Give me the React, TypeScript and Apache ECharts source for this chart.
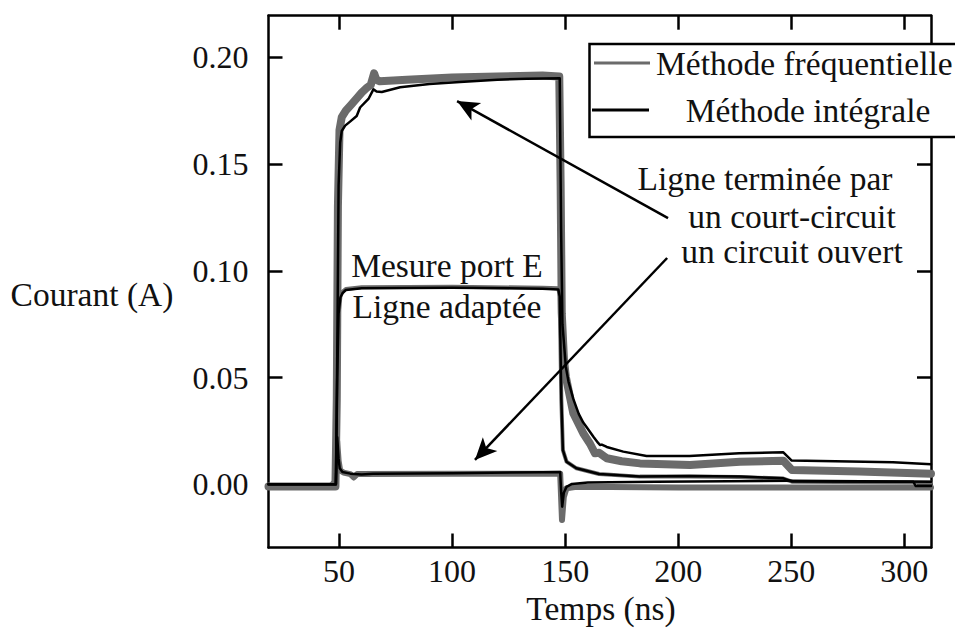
import React, { useEffect, useRef } from "react";
import * as echarts from "echarts";

// ---- axis settings ----
const xTicks = [50, 100, 150, 200, 250, 300];
const yTicks = [0, 0.05, 0.1, 0.15, 0.2];
const xRange = [18.8, 311.8];
const yRange = [-0.0296, 0.2195];

// ---- series (time in ns, current in A) ----
// Ligne terminée par un court-circuit
const scFrequentielle: [number, number][] = [
  [18.8, -0.001], [48.4, -0.001], [49.0, 0.04], [49.5, 0.13], [50.2, 0.166], [51.2, 0.172],
  [53, 0.175], [55.5, 0.178], [58, 0.181], [60, 0.1835], [62, 0.1855], [64, 0.187],
  [65.5, 0.1925], [66.5, 0.1895], [68, 0.1888], [72, 0.189], [80, 0.1895], [100, 0.1905],
  [120, 0.191], [140, 0.1915], [147.4, 0.191], [148.0, 0.14], [148.5, 0.08], [149.5, 0.058],
  [150.3, 0.0504], [153.6, 0.0333], [158, 0.0239], [161, 0.019], [163.2, 0.0145], [165, 0.0148],
  [168.4, 0.0122], [175, 0.0108], [183.1, 0.0098], [205.2, 0.009], [227.3, 0.0106],
  [246.5, 0.011], [250.3, 0.0067], [280, 0.006], [311.8, 0.005],
];
const scIntegrale: [number, number][] = [
  [18.8, 0], [48.6, 0], [49.2, 0.06], [49.8, 0.14], [50.5, 0.16], [51.2, 0.1655], [52.7, 0.168],
  [55, 0.17], [57.8, 0.1725], [59.3, 0.1765], [63, 0.1805], [65.2, 0.185], [66.6, 0.184],
  [68.9, 0.1838], [77, 0.186], [90, 0.1875], [103.5, 0.1885], [120, 0.1895], [133, 0.19],
  [147.6, 0.1902], [148.2, 0.12], [148.8, 0.075], [150.3, 0.055], [151.5, 0.048], [153.6, 0.04],
  [156, 0.033], [158, 0.0289], [160, 0.026], [162.5, 0.0223], [164.5, 0.0195], [165.4, 0.0184],
  [166.2, 0.0186], [168.4, 0.0175], [175.7, 0.0153], [186, 0.0133], [205, 0.0133], [227, 0.0145],
  [246.5, 0.015], [250.2, 0.0111], [295, 0.0103], [311.8, 0.0094],
];
// Mesure port E, ligne adaptée
const adapteeFrequentielle: [number, number][] = [
  [18.8, -0.001], [48.4, -0.001], [49.2, 0.05], [49.8, 0.08], [50.6, 0.088], [51.5, 0.0902],
  [53, 0.0915], [60, 0.0923], [100, 0.0925], [140, 0.0921], [147.0, 0.0918], [147.6, 0.088],
  [148.3, 0.04], [149.0, 0.016], [150.6, 0.0106], [155, 0.0075], [165, 0.0048], [183, 0.0036],
  [205, 0.0036], [227, 0.0034], [246.5, 0.0027], [250.3, 0.0012], [311.8, 0.0008],
];
const adapteeIntegrale: [number, number][] = [
  [18.8, 0], [48.6, 0], [49.2, 0.05], [49.8, 0.08], [50.6, 0.0875], [51.5, 0.0895], [53, 0.091],
  [60, 0.0918], [100, 0.0921], [140, 0.0916], [147.0, 0.0913], [147.6, 0.088], [148.3, 0.04],
  [149.0, 0.016], [150.6, 0.0106], [155, 0.0075], [165, 0.0048], [183, 0.0036], [205, 0.0039],
  [227, 0.0036], [246.5, 0.0028], [250.3, 0.0013], [304, 0.0012], [305, -0.0008], [311.8, -0.0008],
];
// Ligne terminée par un circuit ouvert
const ocFrequentielle: [number, number][] = [
  [18.8, -0.0012], [46, -0.0012], [47.5, 0.0005], [48.5, 0.0], [49.2, 0.02], [49.8, 0.011],
  [50.5, 0.0065], [52, 0.0055], [55, 0.0048], [56.5, 0.0032], [58, 0.0048], [100, 0.005],
  [147.8, 0.005], [148.2, -0.006], [148.6, -0.0167], [149.4, -0.006], [150.6, -0.0018],
  [155, -0.0012], [200, -0.0015], [311.8, -0.0015],
];
const ocIntegrale: [number, number][] = [
  [18.8, 0], [48.6, 0], [49.2, 0.022], [49.8, 0.012], [50.3, 0.0075], [51.5, 0.0058], [55, 0.005],
  [60, 0.0046], [65, 0.0049], [100, 0.0052], [140, 0.0057], [147.8, 0.0058], [148.2, -0.003],
  [148.7, -0.0105], [149.4, -0.004], [150.6, -0.0012], [153, 0.0002], [160, 0.0008],
  [190, 0.0012], [250, 0.0017], [311.8, 0.0012],
];

// ---- annotation arrows (data coordinates: tail, head) ----
const arrowCourtCircuit = [[195.5, 0.1247], [102.2, 0.1795]];
const arrowCircuitOuvert = [[195.1, 0.106], [110.1, 0.0114]];

const FONT = "Liberation Serif";
const GRAY = "#6b6b6b";
const BLACK = "#000000";
const FS = 32;
const FS_TEXT = 33.5;

export default function App() {
  const ref = useRef<HTMLDivElement>(null);
  useEffect(() => {
    if (!ref.current) return;
    const chart = echarts.init(ref.current, undefined, { renderer: "svg" });

    const axisLine = { show: true, onZero: false, lineStyle: { color: BLACK, width: 2.5 } };
    const tick = (vals: number[]) => ({
      show: true,
      inside: true,
      length: 14,
      customValues: vals,
      lineStyle: { color: BLACK, width: 2.5 },
    });
    const labelStyle = { fontFamily: FONT, fontSize: FS, color: "#111" };

    const lineSeries = (name: string, data: [number, number][], color: string, width: number, z: number) => ({
      name,
      type: "line",
      data,
      showSymbol: false,
      symbol: "none",
      silent: true,
      z,
      lineStyle: { color, width, join: "round", cap: "round" },
    });

    const ocBlack: any = lineSeries("Méthode intégrale", ocIntegrale, BLACK, 2.5, 5);
    ocBlack.markLine = {
      silent: true,
      symbol: ["none", "arrow"],
      symbolSize: [15, 22],
      lineStyle: { color: BLACK, width: 2.5, type: "solid" },
      label: { show: false },
      data: [
        [{ coord: arrowCourtCircuit[0] }, { coord: arrowCourtCircuit[1] }],
        [{ coord: arrowCircuitOuvert[0] }, { coord: arrowCircuitOuvert[1] }],
      ],
    };

    const text = (t: string, x: number, y: number, align = "center") => ({
      type: "text",
      x,
      y,
      z: 110,
      style: {
        text: t,
        fontFamily: FONT,
        fontSize: FS_TEXT,
        lineHeight: 28,
        fill: "#111",
        textAlign: align,
        textVerticalAlign: "middle",
      },
    });

    chart.setOption({
      animation: false,
      backgroundColor: "#ffffff",
      textStyle: { fontFamily: FONT },
      grid: { left: 268.5, right: 24, top: 15.7, bottom: 82.5, containLabel: false },
      xAxis: [
        {
          type: "value",
          position: "bottom",
          min: xRange[0],
          max: xRange[1],
          axisLine,
          axisTick: tick(xTicks),
          axisLabel: { ...labelStyle, customValues: xTicks, margin: 7 },
          splitLine: { show: false },
        },
        {
          type: "value",
          position: "top",
          min: xRange[0],
          max: xRange[1],
          axisLine,
          axisTick: tick(xTicks),
          axisLabel: { show: false },
          splitLine: { show: false },
        },
      ],
      yAxis: [
        {
          type: "value",
          position: "left",
          min: yRange[0],
          max: yRange[1],
          axisLine,
          axisTick: tick(yTicks),
          axisLabel: {
            ...labelStyle,
            customValues: yTicks,
            margin: 20,
            formatter: (v: number) => v.toFixed(2),
          },
          splitLine: { show: false },
        },
        {
          type: "value",
          position: "right",
          min: yRange[0],
          max: yRange[1],
          axisLine,
          axisTick: tick(yTicks),
          axisLabel: { show: false },
          splitLine: { show: false },
        },
      ],
      series: [
        lineSeries("Méthode fréquentielle", scFrequentielle, GRAY, 8, 2),
        lineSeries("Méthode fréquentielle", ocFrequentielle, GRAY, 6, 2),
        lineSeries("Méthode fréquentielle", adapteeFrequentielle, GRAY, 4, 2),
        lineSeries("Méthode intégrale", scIntegrale, BLACK, 2.5, 5),
        lineSeries("Méthode intégrale", adapteeIntegrale, BLACK, 2.5, 5),
        ocBlack,
      ],
      graphic: [
        text("Courant (A)", 92, 294),
        text("Temps (ns)", 601, 608),
        text("Mesure port E", 447, 265),
        text("Ligne adaptée", 447, 306),
        text("Ligne terminée par", 765, 178),
        text("un court-circuit", 792, 216),
        text("un circuit ouvert", 792, 251),
        {
          type: "rect",
          z: 100,
          shape: { x: 589.5, y: 44, width: 380, height: 93 },
          style: { fill: "#ffffff", stroke: BLACK, lineWidth: 2.5 },
        },
        {
          type: "line",
          z: 105,
          shape: { x1: 594, y1: 63, x2: 650, y2: 63 },
          style: { stroke: GRAY, lineWidth: 3 },
        },
        {
          type: "line",
          z: 105,
          shape: { x1: 592, y1: 110, x2: 649, y2: 110 },
          style: { stroke: BLACK, lineWidth: 3 },
        },
        text("Méthode fréquentielle", 656, 63, "left"),
        text("Méthode intégrale", 808, 110),
      ],
    });
    return () => chart.dispose();
  }, []);

  return (
    <div
      ref={ref}
      style={{ position: "fixed", left: 0, top: 0, width: 955, height: 630, background: "#fff" }}
    />
  );
}
